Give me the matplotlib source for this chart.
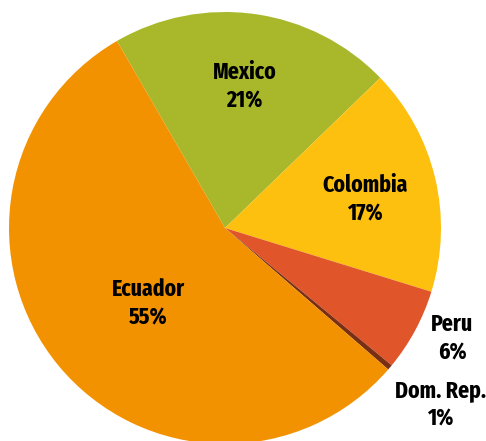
import numpy as np
import matplotlib
matplotlib.use("Agg")
import matplotlib.pyplot as plt

# slice data, clockwise from the Ecuador/Mexico boundary
countries = ["Mexico", "Colombia", "Peru", "Dom. Rep.", "Ecuador"]
shares = [21.1, 17.0, 6.2, 0.4, 55.3]
pct_labels = ["21%", "17%", "6%", "1%", "55%"]
colors = ["#A8B82A", "#FDC00F", "#E0562A", "#7A2E12", "#F39200"]
# label placement: fraction of radius, angle nudge (deg)
label_dist = [0.66, 0.66, 1.17, 1.29, 0.50]
label_nudge = [0, -2, 2.3, 0.8, 5]

plt.rcParams['font.family'] = ['Fira Sans Extra Condensed', 'Fira Sans Condensed', 'DejaVu Sans']

fig = plt.figure(figsize=(4.86, 4.41), dpi=100)
ax = fig.add_axes((9 / 486, -3 / 441, 432 / 486, 432 / 441), frameon=False)

wedges, _ = ax.pie(shares, colors=colors, startangle=120, counterclock=False,
                   radius=1, wedgeprops=dict(linewidth=0))

for w, name, p, d, n in zip(wedges, countries, pct_labels, label_dist, label_nudge):
    mid = np.deg2rad((w.theta1 + w.theta2) / 2 + n)
    ax.text(d * np.cos(mid), d * np.sin(mid), "{}\n{}".format(name, p),
            ha='center', va='center', fontsize=17, fontweight='bold',
            linespacing=1.3, color='black')

ax.set_xlim(-1, 1)
ax.set_ylim(-1, 1)
ax.axis('off')

fig.savefig("out.png", dpi=100)
